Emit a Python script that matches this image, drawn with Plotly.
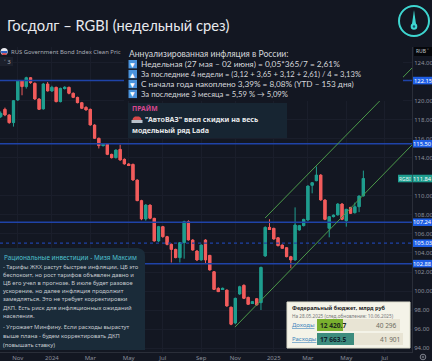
import plotly.graph_objects as go

W, H = 432, 361
opens = [118.35,119.12,118.53,117.72,120.10,122.10,121.51,122.45,121.86,120.21,119.16,121.79,121.05,121.44,119.93,121.33,121.44,120.81,120.38,119.82,119.33,119.12,117.47,116.07,115.30,115.44,114.38,114.03,114.91,113.86,113.37,113.33,111.68,109.51,107.58,109.05,107.65,105.26,106.77,105.72,104.91,104.38,103.51,105.09,107.30,105.37,104.21,103.26,105.37,103.75,102.03,100.28,100.20,100.10,98.30,96.63,99.68,100.60,99.33,98.70,99.19,98.77,103.68,106.70,106.60,105.61,104.84,104.56,103.61,103.26,106.42,106.88,107.47,111.12,111.61,112.21,109.58,106.60,107.82,108.00,109.16,107.40,108.80,108.24,108.87,110.00]
highs = [118.90,119.30,118.60,120.10,122.20,122.20,122.55,122.50,121.95,120.30,121.90,122.00,121.60,121.50,121.40,121.55,121.50,120.90,120.45,119.90,119.45,119.20,117.55,116.15,115.55,115.50,114.45,114.90,115.40,113.95,113.45,113.40,111.75,109.60,109.15,109.10,107.70,106.85,106.85,105.80,105.00,104.45,105.15,107.40,107.45,105.45,104.30,104.90,105.45,103.80,102.10,100.40,100.35,100.15,98.35,99.30,100.55,100.70,99.40,98.95,99.25,102.55,106.80,107.55,106.65,105.65,104.90,104.60,103.70,108.80,106.95,107.60,111.10,111.45,113.10,112.30,109.65,107.85,108.05,109.25,109.25,108.65,108.85,109.30,110.05,112.67]
lows = [118.20,118.40,117.60,117.30,120.00,120.60,121.30,121.80,120.10,119.05,119.10,121.00,120.95,119.85,119.85,121.20,120.70,120.30,119.75,119.15,119.00,117.40,116.00,115.00,115.20,114.30,113.95,113.95,113.70,113.30,113.20,111.60,109.45,107.45,107.40,107.55,105.20,105.15,105.60,104.80,103.00,103.45,103.00,103.40,105.30,104.25,103.15,103.20,102.90,102.15,100.10,99.90,100.15,98.35,96.40,96.50,99.60,99.15,98.55,98.65,98.45,98.00,103.60,106.45,105.40,104.70,104.45,103.55,102.40,103.20,106.35,106.80,107.40,110.28,111.55,109.50,107.45,105.65,107.75,107.95,107.45,106.77,108.10,108.15,108.30,109.95]
closes = [118.70,118.53,117.72,120.03,122.10,121.51,122.45,121.93,120.21,119.12,121.79,121.05,121.44,119.93,121.33,121.44,120.81,120.38,119.82,119.23,119.05,117.47,116.07,115.30,115.44,114.38,114.03,114.84,113.79,113.37,113.26,111.68,109.51,107.58,109.05,107.65,105.26,106.77,105.72,104.91,104.38,103.51,105.09,107.30,105.37,104.31,103.26,104.84,103.26,102.21,100.17,99.93,100.28,98.42,96.50,99.23,100.45,99.23,98.60,98.88,98.53,102.49,106.70,106.50,105.47,104.77,104.49,103.61,103.26,106.95,106.88,107.54,111.05,111.40,112.21,109.58,107.54,107.82,108.00,109.16,107.54,108.60,108.17,108.87,110.00,111.84]
week_index = list(range(len(opens)))

levels = [122.15, 115.50, 107.24, 105.03, 102.88]
level_labels = ["122.15", "115.50", "107.24", "105.03", "102.88"]
level_dash = ["solid", "solid", "solid", "dot", "solid"]
lower_channel_x, lower_channel_y = [54.9, 96.4], [96.2, 115.37]
upper_channel_x, upper_channel_y = [61.96, 96.4], [107.68, 123.47]
price_ticks = [94,96,98,100,102,104,106,108,110,114,116,118,120,124]
month_pos = [4,12,21,30,38,47,55,64,72,81,90]
month_labels = ["Nov","2024","Mar","May","Jul","Sep","Nov","2025","Mar","May","Jul"]

title = "Госдолг – RGBI (недельный срез)"
index_name = "RUS Government Bond Index Clean Pric"
inflation_head = "Аннуализированная инфляция в России:"
inflation_rows = ["Недельная (27 мая – 02 июня) = 0,05*365/7 = 2,61%",
                  "За последние 4 недели = (3,12 + 3,65 + 3,12 + 2,61) / 4 = 3,13%",
                  "С начала года накоплено 3,39% = 8,08% (YTD – 153 дня)",
                  "За последние 3 месяца = 5,59 % → 5,09%"]
inflation_sizes = [8.3, 7.6, 8.2, 7.7]
inflation_icons = ["▼", "▲", "▼", "▼"]
prime_rows = ["\"АвтоВАЗ\" ввел скидки на весь", "модельный ряд Lada"]
left_title = "Рациональные инвестиции - Мизя Максим"
left_rows = ["- Тарифы ЖКХ растут быстрее инфляции, ЦБ это",
             "беспокоит, но рост тарифов объявлен давно и",
             "ЦБ его учел в прогнозе. В июле будет разовое",
             "ускорение, но далее инфляция продолжит",
             "замедляться. Это не требует корректировки",
             "ДКП. Есть риск для инфляционных ожиданий",
             "населения.",
             "- Угрожает Минфину. Если расходы вырастут",
             "выше плана - будем корректировать ДКП",
             "(повышать ставку)"]
left_rows_y = [266.7, 274.8, 283, 291.2, 299.4, 307.5, 315.7, 327.3, 336, 344.7]

BG = "#131722"
UP, DOWN = "#1f9e8f", "#f25c5c"
fx = lambda x: x / W
fy = lambda y: 1 - y / H

fig = go.Figure()
fig.add_trace(go.Candlestick(x=week_index, open=opens, high=highs, low=lows, close=closes,
    increasing=dict(line=dict(color=UP, width=1), fillcolor=UP),
    decreasing=dict(line=dict(color=DOWN, width=1), fillcolor=DOWN),
    whiskerwidth=0, showlegend=False))
fig.add_trace(go.Bar(x=week_index, base=[min(o, c) for o, c in zip(opens, closes)],
    y=[abs(c - o) for o, c in zip(opens, closes)], width=0.76, showlegend=False,
    marker=dict(color=[UP if c >= o else DOWN for o, c in zip(opens, closes)], line=dict(width=0))))
for lv, dash in zip(levels, level_dash):
    fig.add_trace(go.Scatter(x=[-0.16, 96.4], y=[lv, lv], mode="lines", showlegend=False,
                             line=dict(color="#1f43a8", width=1.5 if dash == "solid" else 1.2, dash=dash)))
for xs, ys in [(lower_channel_x, lower_channel_y), (upper_channel_x, upper_channel_y)]:
    fig.add_trace(go.Scatter(x=xs, y=ys, mode="lines", showlegend=False, line=dict(color="#4c9a4a", width=1)))

shapes, ann = [], []
def rect(x0, y0, x1, y1, fill, line=None, lw=0):
    shapes.append(dict(type="rect", xref="paper", yref="paper", x0=fx(x0), x1=fx(x1), y0=fy(y1), y1=fy(y0),
                       fillcolor=fill, line=dict(color=line or fill, width=lw), layer="above"))
def circle(cx, cy, r, fill="rgba(0,0,0,0)", line=None, lw=0):
    shapes.append(dict(type="circle", xref="paper", yref="paper", x0=fx(cx-r), x1=fx(cx+r), y0=fy(cy+r), y1=fy(cy-r),
                       fillcolor=fill, line=dict(color=line or fill, width=lw), layer="above"))
def path(pts, fill, close=True):
    d = "M" + " L".join(f"{fx(a):.5f},{fy(b):.5f}" for a, b in pts) + (" Z" if close else "")
    shapes.append(dict(type="path", xref="paper", yref="paper", path=d, fillcolor=fill, line=dict(width=0), layer="above"))
def text(x, y, s, size=7, color="#d0d3d8", anchor="left", font="Noto Sans"):
    ann.append(dict(xref="paper", yref="paper", x=fx(x), y=fy(y), text=s, showarrow=False, xanchor=anchor,
                    yanchor="middle", align=anchor, borderpad=0, font=dict(size=size, color=color, family=font)))

# title strip and logo
rect(0, 0, 432, 47, BG)
text(6, 25, title, 14.7, "#e8eaee", font="Lato")
circle(414, 21, 15, line="#3ed6d0", lw=2)
path([(414, 10), (416, 24), (412, 24)], "#3ed6d0")
circle(414, 26.5, 3.3, fill="#3ed6d0")
circle(414, 26.5, 1.2, fill="#16506a")

# legend of the index
circle(4.2, 51.5, 3.6, fill="#e8e8ee")
path([(0.9, 51), (7.5, 51), (7, 53.2), (1.4, 53.2)], "#2f5fc0")
path([(1.4, 53.2), (7, 53.2), (5.5, 55), (2.9, 55)], "#d83a3a")
text(10, 52, index_name, 5.9, "#a9adb7")
rect(0, 57, 13, 66, "#1c202c")
text(2.5, 61.5, "˅ 3", 6, "#a9adb7")

# inflation overlay
rect(124, 47, 403, 101, BG)
text(128, 54, inflation_head, 8.6, "#d6d8dc", font="Lato")
for i, (row, ic, sz) in enumerate(zip(inflation_rows, inflation_icons, inflation_sizes)):
    y = 64.2 + i * 9.9
    rect(128.5, y - 4.2, 137, y + 4.2, "#4a93dc")
    text(132.7, y, ic, 6, "#ffffff", "center", "DejaVu Sans")
    text(140, y, row, sz, "#d6d8dc", font="Lato")

# prime box
rect(128, 103, 287, 138, "#172532")
text(130.5, 108.7, "<b>ПРАЙМ</b>", 6.8, "#d8478f", font="Noto Sans")
path([(132, 122), (133, 118), (135, 116.5), (139, 116.5), (141, 118), (142, 122)], "#d84a4a")
rect(131.5, 120, 142.5, 123, "#b9c2cc")
text(144, 119, "<b>" + prime_rows[0] + "</b>", 7.1, "#e6e8ea", font="Noto Sans")
text(130.5, 130, "<b>" + prime_rows[1] + "</b>", 7.1, "#e6e8ea", font="Noto Sans")

# left comment box
r = 7
path([(0, 248), (138, 248), (142, 249.5), (144.5, 252), (145, 256), (145, 350), (0, 350)], "#1a2b39")
text(3, 257, left_title, 6.4, "#4fc0cf", font="Noto Sans")
for row, y in zip(left_rows, left_rows_y):
    text(2, y, row, 5.8, "#c6cad0", font="Noto Sans")

# budget widget
rect(287, 302, 410, 348, "#f4f3e8", "#dcdccc", 1)
text(291, 308, "<b>Федеральный бюджет, млрд руб</b>", 5.5, "#1c1c1c", font="Noto Sans")
text(291, 315.5, "На 28.05.2025 (след.обновление: 10.06.2025)", 4.7, "#77777a", font="Noto Sans")
rect(317, 319, 400, 331, "#e8e4d4")
rect(317, 319, 343, 331, "#79b02e")
rect(317, 333, 403, 345, "#e8e4d4")
rect(317, 333, 354, 345, "#3d8c7e")
text(291, 325, "<u>Доходы</u>", 6, "#3f86bd", font="Noto Sans")
text(291, 339, "<u>Расходы</u>", 6, "#3f86bd", font="Noto Sans")
text(319, 325, "<b>12 420.7</b>", 6.6, "#1c2a1c", font="Noto Sans")
text(319, 339, "<b>17 663.5</b>", 6.6, "#10202a", font="Noto Sans")
text(398, 325, "40 296", 6.5, "#6d6d62", "right", "Noto Sans")
text(401, 339, "41 901", 6.5, "#6d6d62", "right", "Noto Sans")

# price scale labels
def price_y(p):
    return 63 + (124 - p) * 9.5
for lv, lab in zip(levels, level_labels):
    y = price_y(lv)
    rect(413, y - 3.8, 432, y + 3.8, "#1f5fe6")
    text(422.5, y, lab, 5.8, "#ffffff", "center", "Noto Sans")
y = price_y(closes[-1])
rect(398, y - 3.8, 412, y + 3.8, UP)
rect(412.5, y - 3.8, 432, y + 3.8, UP)
text(405, y, "RGBI", 5, "#e8f8f4", "center", "Noto Sans")
text(422.5, y, "111.84", 5.8, "#ffffff", "center", "Noto Sans")
rect(414, 47, 432, 56, "#05070b")
text(415, 51.5, "RUB ˅", 5, "#c4c7cf", font="Noto Sans")
circle(423, 357, 2.8, line="#9a9ea8", lw=0.8)
circle(423, 357, 0.9, line="#9a9ea8", lw=0.6)

fig.update_layout(width=W, height=H, autosize=False, paper_bgcolor=BG, plot_bgcolor=BG,
    margin=dict(l=0, r=0, t=0, b=0), shapes=shapes, annotations=ann, showlegend=False,
    xaxis=dict(domain=[0, 412 / W], range=[-0.16, 96.4], rangeslider=dict(visible=False), tickmode="array", tickvals=month_pos,
               ticktext=month_labels, tickfont=dict(size=6, color="#8c909c", family="Noto Sans"),
               showgrid=True, gridcolor="#1a1e2b", gridwidth=1, zeroline=False, showline=True, linecolor="#2a2e39",
               ticks="", ticklen=0, automargin=False),
    yaxis=dict(domain=[9 / H, 314 / H], range=[93.58, 125.68], side="right", tickmode="array", tickvals=price_ticks,
               ticktext=[f"{t:.2f}" for t in price_ticks], tickfont=dict(size=6, color="#8c909c", family="Noto Sans"),
               showgrid=True, gridcolor="#1a1e2b", gridwidth=1, zeroline=False, showline=True, linecolor="#2a2e39",
               ticks="", ticklen=0, automargin=False))
fig.write_html("out.html", post_script="document.body.style.margin='0';", config={"displayModeBar": False})
